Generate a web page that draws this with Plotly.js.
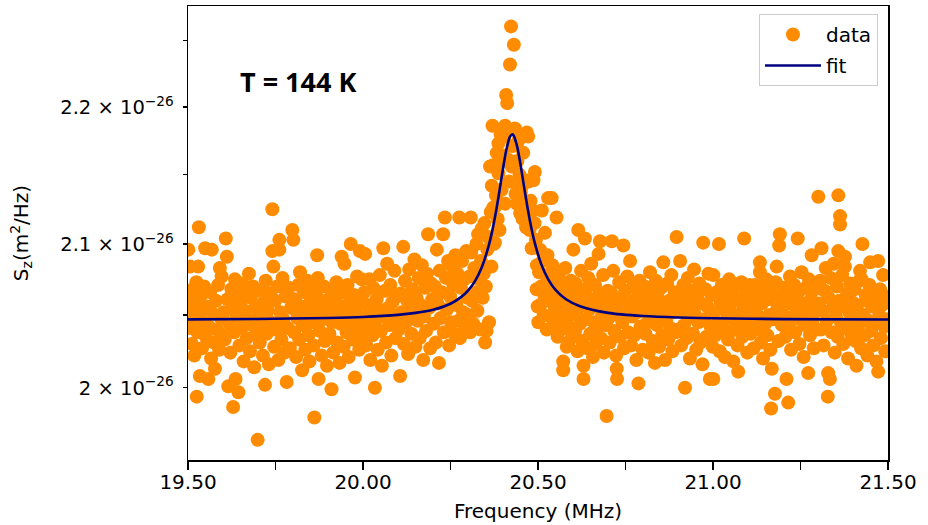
<!DOCTYPE html>
<html>
<head>
<meta charset="utf-8">
<script src="https://cdn.plot.ly/plotly-3.0.1.min.js"></script>
<style>
  html, body { margin: 0; padding: 0; background: #ffffff; }
  #chart { width: 928px; height: 525px; }
</style>
</head>
<body>
<div id="chart"></div>
<script>
// Measured spectrum: frequency (MHz) and S_z in units of 1e-26 m^2/Hz
const freqSeg1 = [
  19.501,19.503,19.505,19.506,19.508,19.511,19.513,19.516,19.518,19.521,19.524,19.525,19.527,19.529,19.531,19.533,19.534,19.537,19.540,19.543,19.546,19.549,19.551,19.554,19.558,19.560,19.563,19.566,19.568,19.571,19.574,19.577,19.580,19.583,19.586,19.589,19.591,19.594,19.596,19.599,
  19.602,19.605,19.608,19.611,19.613,19.615,19.618,19.621,19.624,19.627,19.629,19.632,19.634,19.636,19.639,19.642,19.644,19.647,19.650,19.653,19.656,19.659,19.662,19.665,19.668,19.671,19.674,19.677,19.680,19.683,19.686,19.689,19.692,19.695,19.699,
  19.702,19.705,19.708,19.711,19.714,19.717,19.720,19.722,19.725,19.728,19.731,19.734,19.737,19.741,19.741,19.744,19.746,19.749,19.752,19.755,19.758,19.761,19.761,19.764,19.767,19.770,19.773,19.776,19.779,19.782,19.785,19.788,19.791,19.794,19.798,19.801,
  19.803,19.806,19.809,19.812,19.815,19.818,19.820,19.823,19.826,19.829,19.832,19.835,19.838,19.841,19.844,19.847,19.850,19.853,19.856,19.859,19.861,19.864,19.867,19.869,19.871,19.873,19.876,19.879,19.882,19.885,19.888,19.891,19.894,19.897,
  19.901,19.904,19.907,19.910,19.912,19.915,19.918,19.921,19.924,19.927,19.930,19.933,19.936,19.939,19.942,19.945,19.947,19.950,19.953,19.956,19.959,19.962,19.965,19.968,19.971,19.974,19.977,19.980,19.983,19.986,19.989,19.991,19.994,19.996,19.999
];
const szSeg1 = [
  2.096,2.062,2.041,2.084,2.055,2.030,2.068,2.047,2.022,2.058,2.073,1.994,2.038,2.084,2.112,2.050,2.008,2.064,2.027,2.045,2.070,2.097,2.035,2.056,2.006,2.042,2.066,2.020,2.096,2.051,2.031,2.013,2.060,2.040,2.071,2.026,2.083,2.048,2.077,2.036,
  2.052,2.033,2.104,2.091,2.061,2.001,2.044,2.024,2.068,2.056,1.987,2.038,2.075,2.006,2.049,2.065,1.997,2.029,2.058,2.041,2.072,2.018,2.053,2.066,2.034,2.047,2.079,2.025,2.062,2.043,2.070,2.014,2.055,2.036,1.965,
  2.050,2.031,2.067,2.043,2.022,2.059,2.002,2.074,2.037,2.053,2.016,2.065,2.045,2.125,2.095,2.084,2.028,2.060,2.040,2.070,2.019,2.103,2.096,2.052,2.033,2.076,2.047,2.024,2.063,2.004,2.041,2.069,2.027,2.055,2.110,2.103,
  2.038,2.061,2.021,2.048,2.071,2.033,2.080,2.056,2.012,2.043,2.066,2.026,2.053,2.074,2.036,2.018,2.059,2.045,2.069,2.029,1.980,2.051,2.063,2.092,2.076,2.006,2.039,2.057,2.022,2.047,2.070,2.032,2.060,2.015,
  2.054,2.037,2.068,1.999,2.045,2.024,2.062,2.050,2.073,2.031,2.057,2.017,2.044,2.091,2.066,2.028,2.086,2.052,2.038,2.071,2.021,2.059,2.100,2.046,2.033,2.064,2.007,2.053,2.077,2.040,2.026,2.095,2.058,2.075,2.035
];
const freqSeg2 = [
  20.002,20.004,20.006,20.009,20.012,20.015,20.018,20.021,20.024,20.027,20.030,20.034,20.036,20.039,20.042,20.045,20.048,20.051,20.054,20.058,20.060,20.063,20.066,20.069,20.072,20.075,20.078,20.081,20.084,20.087,20.090,20.093,20.096,20.099,
  20.102,20.106,20.108,20.111,20.115,20.117,20.120,20.123,20.126,20.129,20.132,20.135,20.138,20.141,20.144,20.147,20.150,20.153,20.156,20.159,20.162,20.165,20.168,20.172,20.174,20.177,20.180,20.183,20.186,20.189,20.192,20.195,20.198,
  20.202,20.205,20.208,20.211,20.213,20.217,20.219,20.222,20.225,20.229,20.231,20.234,20.237,20.240,20.243,20.246,20.249,20.252,20.255,20.258,20.261,20.264,20.267,20.270,20.273,20.275,20.277,20.280,20.283,20.286,20.289,20.292,20.295,20.298,
  20.301,20.304,20.306,20.308,20.309,20.312,20.315,20.318,20.321,20.324,20.327,20.329,20.332,20.335,20.337,20.339,20.342,20.345,20.347,20.349,20.351,20.353,20.355,20.358,20.360,20.363,20.365,20.367,20.368,20.370,20.372,20.372,20.374,20.377,20.378,20.380,20.382,20.385,20.387,20.387,20.390,20.393,20.396,20.398,
  20.401,20.404,20.406,20.406,20.409,20.412,20.415,20.417,20.420,20.423,20.425,20.428,20.431,20.434,20.434,20.436,20.439,20.441,20.444,20.447,20.449,20.451,20.453,20.456,20.458,20.461,20.464,20.466,20.468,20.470,20.472,20.473,20.476,20.479,20.482,20.485,20.487,20.490,20.491,20.494,20.496,20.497,20.499
];
const szSeg2 = [
  2.048,2.066,2.093,2.029,2.057,2.041,2.075,2.019,2.052,2.036,2.069,2.000,2.046,2.061,2.026,2.054,2.078,2.039,2.015,2.097,2.049,2.067,2.031,2.086,2.055,2.043,2.071,2.022,2.059,2.045,2.081,2.034,2.063,2.050,
  2.040,2.008,2.065,2.052,2.098,2.030,2.074,2.045,2.060,2.023,2.082,2.051,2.037,2.068,2.056,2.089,2.028,2.062,2.046,2.076,2.034,2.057,2.085,2.019,2.049,2.069,2.039,2.079,2.107,2.055,2.027,2.072,2.061,
  2.044,2.070,2.031,2.096,2.058,2.017,2.081,2.048,2.066,2.107,2.038,2.119,2.076,2.054,2.088,2.029,2.063,2.045,2.084,2.071,2.037,2.092,2.057,2.079,2.046,2.119,2.034,2.069,2.088,2.052,2.075,2.041,2.095,2.062,
  2.050,2.077,2.038,2.119,2.094,2.060,2.044,2.083,2.066,2.100,2.053,2.107,2.075,2.040,2.088,2.111,2.062,2.079,2.115,2.031,2.070,2.039,2.096,2.105,2.045,2.156,2.123,2.084,2.142,2.186,2.126,2.157,2.100,2.101,2.127,2.135,2.166,2.118,2.173,2.151,2.110,2.180,2.139,2.160,
  2.164,2.178,2.186,2.129,2.209,2.203,2.161,2.145,2.232,2.261,2.156,2.171,2.247,2.184,2.144,2.136,2.129,2.160,2.175,2.150,2.122,2.137,2.141,2.118,2.166,2.130,2.146,2.112,2.181,2.124,2.178,2.145,2.110,2.131,2.097,2.124,2.146,2.115,2.152,2.103,2.068,2.085,2.056
];
const freqSeg3 = [
  20.501,20.503,20.506,20.506,20.509,20.511,20.513,20.516,20.518,20.520,20.522,20.525,20.527,20.529,20.531,20.534,20.536,20.539,20.541,20.544,20.546,20.548,20.551,20.553,20.556,20.558,20.561,20.563,20.565,20.568,20.572,20.572,20.575,20.578,20.580,20.582,20.585,20.587,20.590,20.591,20.594,20.597,20.599,
  20.601,20.603,20.606,20.608,20.611,20.613,20.615,20.618,20.620,20.623,20.626,20.628,20.630,20.630,20.634,20.636,20.639,20.641,20.644,20.647,20.649,20.652,20.655,20.657,20.660,20.663,20.665,20.668,20.671,20.673,20.675,20.677,20.680,20.683,20.686,20.688,20.691,20.694,20.696,20.699,
  20.702,20.705,20.708,20.711,20.713,20.715,20.718,20.721,20.723,20.725,20.726,20.729,20.732,20.735,20.738,20.741,20.744,20.746,20.749,20.752,20.755,20.758,20.760,20.763,20.766,20.769,20.772,20.775,20.778,20.781,20.784,20.787,20.790,20.793,20.796,20.799,
  20.802,20.805,20.807,20.810,20.813,20.816,20.820,20.822,20.825,20.828,20.831,20.834,20.837,20.840,20.843,20.846,20.849,20.852,20.855,20.858,20.860,20.863,20.866,20.869,20.872,20.875,20.878,20.881,20.884,20.887,20.890,20.893,20.896,20.899,
  20.901,20.904,20.906,20.909,20.912,20.915,20.917,20.920,20.922,20.925,20.928,20.931,20.934,20.937,20.940,20.943,20.946,20.949,20.952,20.955,20.958,20.961,20.964,20.967,20.970,20.972,20.975,20.978,20.981,20.984,20.987,20.991,20.993,20.996,20.999
];
const szSeg3 = [
  2.045,2.080,2.096,2.057,2.070,2.124,2.088,2.050,2.064,2.108,2.078,2.040,2.092,2.133,2.060,2.073,2.049,2.133,2.085,2.042,2.067,2.055,2.079,2.119,2.035,2.062,2.048,2.075,2.040,2.069,2.018,2.012,2.056,2.083,2.046,2.028,2.066,2.031,2.052,2.041,2.074,2.035,2.061,
  2.096,2.058,2.039,2.072,2.050,2.025,2.110,2.064,2.044,2.081,2.032,2.057,2.015,2.006,2.104,2.068,2.047,2.027,2.076,2.054,2.037,2.086,2.061,2.021,2.045,2.071,2.030,2.056,2.041,2.093,2.065,2.102,2.034,2.050,2.078,2.024,2.059,2.043,1.981,2.067,
  2.048,2.031,2.066,2.102,2.055,2.081,2.039,2.062,2.022,2.013,2.006,2.050,2.073,2.035,2.059,2.045,2.099,2.027,2.067,2.053,2.077,2.038,2.058,2.088,2.029,2.049,2.070,2.036,2.061,2.019,2.052,2.003,2.074,2.042,2.063,2.026,
  2.054,2.070,2.037,2.060,2.045,2.024,2.080,2.051,2.066,2.032,2.057,2.017,2.074,2.043,2.062,2.028,2.050,2.069,2.036,2.087,2.056,2.019,2.046,2.072,2.033,2.060,2.041,2.078,2.025,2.052,2.066,2.038,2.105,2.058,
  2.040,2.064,2.088,2.029,2.053,2.071,2.043,2.000,2.061,2.034,2.076,2.048,2.020,2.067,2.055,2.037,2.082,2.050,2.026,2.063,2.045,2.072,2.031,2.058,2.016,2.101,2.047,2.068,2.035,2.056,2.079,2.006,2.042,2.064,2.028
];
const freqSeg4 = [
  21.001,21.001,21.004,21.007,21.010,21.013,21.017,21.019,21.022,21.025,21.028,21.031,21.034,21.037,21.040,21.043,21.046,21.049,21.052,21.055,21.058,21.061,21.064,21.067,21.070,21.072,21.075,21.078,21.081,21.084,21.087,21.089,21.092,21.095,21.098,
  21.101,21.104,21.107,21.110,21.113,21.116,21.120,21.122,21.125,21.128,21.131,21.134,21.134,21.137,21.140,21.143,21.146,21.149,21.152,21.155,21.158,21.161,21.164,21.166,21.168,21.170,21.173,21.177,21.179,21.182,21.184,21.187,21.189,21.191,21.194,21.197,
  21.201,21.204,21.207,21.210,21.212,21.215,21.217,21.220,21.223,21.226,21.229,21.232,21.235,21.238,21.242,21.244,21.247,21.250,21.253,21.256,21.259,21.262,21.265,21.268,21.272,21.274,21.277,21.280,21.282,21.285,21.288,21.291,21.294,21.297,
  21.301,21.303,21.306,21.308,21.310,21.313,21.316,21.319,21.322,21.325,21.328,21.329,21.331,21.334,21.336,21.339,21.342,21.345,21.348,21.351,21.354,21.356,21.358,21.358,21.361,21.363,21.363,21.366,21.369,21.372,21.375,21.377,21.377,21.380,21.383,21.386,21.389,21.392,21.395,21.398,
  21.401,21.404,21.407,21.410,21.412,21.415,21.418,21.420,21.423,21.425,21.427,21.430,21.433,21.436,21.439,21.441,21.444,21.447,21.449,21.452,21.455,21.458,21.461,21.464,21.467,21.470,21.472,21.472,21.475,21.477,21.480,21.483,21.486,21.489,21.492,21.495,21.498
];
const szSeg4 = [
  2.078,2.006,2.052,2.036,2.066,2.044,2.100,2.025,2.059,2.071,2.040,2.054,2.021,2.067,2.048,2.033,2.075,2.057,2.039,2.063,2.018,2.050,2.070,2.043,2.029,2.011,2.061,2.047,2.073,2.035,2.055,2.104,2.041,2.066,2.024,
  2.052,2.071,2.037,2.060,2.045,2.027,2.071,2.056,2.040,2.066,2.049,2.087,2.080,2.031,2.058,2.020,2.068,2.044,2.075,2.036,2.061,2.050,2.026,1.986,2.013,2.065,2.047,1.996,2.073,2.084,2.055,2.032,2.099,2.107,2.062,2.043,
  2.050,2.069,2.035,2.006,2.058,1.990,2.044,2.077,2.026,2.062,2.049,2.071,2.038,2.055,2.104,2.066,2.030,2.047,2.080,2.058,2.021,2.043,2.069,2.052,2.010,2.075,2.036,2.061,2.092,2.047,2.027,2.068,2.055,2.040,
  2.134,2.058,2.074,2.040,2.097,2.053,2.029,2.067,2.083,2.046,1.994,2.010,2.062,2.006,2.076,2.038,2.055,2.086,2.024,2.049,2.070,2.035,2.135,2.095,2.060,2.120,2.114,2.044,2.078,2.030,2.056,2.091,2.084,2.041,2.065,2.020,2.052,2.072,2.037,2.059,
  2.048,2.068,2.032,2.015,2.057,2.043,2.074,2.081,2.027,2.075,2.100,2.050,2.036,2.064,2.060,2.022,2.046,2.071,2.087,2.039,2.056,2.029,2.066,2.044,2.018,2.061,2.088,2.011,2.050,2.068,2.034,2.057,2.078,2.042,2.025,2.063,2.047
];

// Fitted curve (same units)
const fitFreq = [19.50,19.70,19.90,20.00,20.10,20.15,20.20,20.25,20.28,20.30,20.32,20.34,20.36,20.37,20.38,20.39,20.40,20.41,20.42,20.426,20.43,20.44,20.45,20.46,20.47,20.48,20.49,20.51,20.53,20.55,20.58,20.62,20.70,20.80,20.90,21.00,21.20,21.50];
const fitSz = [2.0470,2.0473,2.0480,2.0487,2.0501,2.0515,2.0537,2.0579,2.0625,2.0671,2.0738,2.0839,2.0996,2.1103,2.1233,2.1384,2.1544,2.1688,2.1780,2.1796,2.1789,2.1711,2.1575,2.1415,2.1262,2.1127,2.1016,2.0852,2.0746,2.0676,2.0610,2.0561,2.0515,2.0493,2.0483,2.0478,2.0472,2.0469];

// Axis ticks
const xTickVals = [19.5, 20.0, 20.5, 21.0, 21.5];
const xTickText = ['19.50', '20.00', '20.50', '21.00', '21.50'];
const xMinorVals = [19.75, 20.25, 20.75, 21.25];
const yTickVals = [2.0, 2.1, 2.2];
const yTickText = ['2 × 10<sup>−26</sup>', '2.1 × 10<sup>−26</sup>', '2.2 × 10<sup>−26</sup>'];
const yMinorVals = [2.05, 2.15, 2.25];
const unit = 1e-26;

const dataFreq = freqSeg1.concat(freqSeg2, freqSeg3, freqSeg4);
const dataSz = szSeg1.concat(szSeg2, szSeg3, szSeg4).map(v => v * unit);

const font = 'DejaVu Sans, Verdana, sans-serif';

const traces = [
  {
    x: dataFreq, y: dataSz, type: 'scatter', mode: 'markers', name: 'data',
    marker: { color: '#ff8c00', size: 14, line: { width: 0 } },
    legendgroup: 'a'
  },
  {
    x: fitFreq, y: fitSz.map(v => v * unit), type: 'scatter', mode: 'lines', name: 'fit',
    line: { color: '#000080', width: 2.6, shape: 'spline', smoothing: 0.8 },
    legendgroup: 'b'
  }
];

const layout = {
  width: 928, height: 525,
  margin: { l: 188, r: 40, t: 6, b: 65 },
  paper_bgcolor: '#ffffff', plot_bgcolor: '#ffffff',
  font: { family: font, size: 20, color: '#000000' },
  showlegend: true,
  xaxis: {
    range: [19.5, 21.5],
    tickmode: 'array', tickvals: xTickVals, ticktext: xTickText,
    ticks: 'outside', ticklen: 8, tickwidth: 1.3, tickcolor: '#000',
    ticklabelstandoff: -5,
    minor: { tickmode: 'array', tickvals: xMinorVals, ticks: 'outside', ticklen: 8, tickwidth: 1.3, tickcolor: '#000', showgrid: false },
    showline: true, linecolor: '#000', linewidth: 1.5, mirror: true,
    showgrid: false, zeroline: false,
    tickfont: { family: font, size: 20, color: '#000' },
    title: { text: 'Frequency (MHz)', font: { family: font, size: 20, color: '#000' }, standoff: 11 }
  },
  yaxis: {
    type: 'log',
    range: [Math.log10(1.9516e-26), Math.log10(2.2767e-26)],
    tickmode: 'array', tickvals: yTickVals.map(v => v * unit), ticktext: yTickText,
    ticks: 'outside', ticklen: 4, tickwidth: 1.3, tickcolor: '#000',
    ticklabelstandoff: 5,
    minor: { tickmode: 'array', tickvals: yMinorVals.map(v => v * unit), ticks: 'outside', ticklen: 4, tickwidth: 1.3, tickcolor: '#000', showgrid: false },
    showline: true, linecolor: '#000', linewidth: 1.5, mirror: true,
    showgrid: false, zeroline: false,
    tickfont: { family: font, size: 19.5, color: '#000' },
    title: { text: 'S<sub>z</sub>(m<sup>2</sup>/Hz)', font: { family: font, size: 20, color: '#000' }, standoff: 26 }
  },
  legend: {
    x: 0.9857, xanchor: 'right', y: 0.9824, yanchor: 'top',
    bgcolor: '#ffffff', bordercolor: '#cccccc', borderwidth: 1,
    font: { family: font, size: 20, color: '#000' },
    traceorder: 'grouped', tracegroupgap: 2, itemwidth: 56
  },
  annotations: [
    {
      text: '<b>T = 144 K</b>', x: 19.814, xref: 'x', y: 0.8326, yref: 'paper',
      showarrow: false, xanchor: 'center', yanchor: 'middle',
      font: { family: 'Open Sans, sans-serif', size: 27, color: '#000' }
    }
  ]
};

Plotly.newPlot('chart', traces, layout, { displayModeBar: false, staticPlot: true });
</script>
</body>
</html>
